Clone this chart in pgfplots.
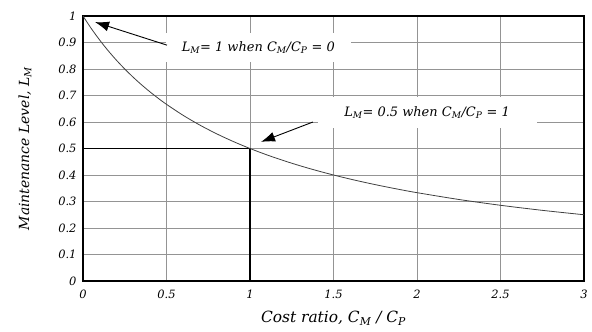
\documentclass[border=0pt]{standalone}
\usepackage{fontspec}
\setmainfont{DejaVu Serif}
\usepackage{pgfplots}
\pgfplotsset{compat=1.18}
\usetikzlibrary{arrows.meta}
\newcommand\sub[2]{\textit{#1}\textsubscript{\textit{#2}}}
\begin{document}
\begin{tikzpicture}
\path[use as bounding box] (-83bp,-51bp) rectangle (509bp,281bp);
\begin{axis}[
  scale only axis,
  width=501bp, height=265bp,
  xmin=0, xmax=3, ymin=0, ymax=1,
  xtick={0,0.5,...,3}, ytick={0,0.1,...,1},
  grid=major,
  major grid style={line width=0.9bp, color=black!42},
  axis line style={line width=1.4bp, black},
  tick style={draw=none},
  /pgf/number format/assume math mode=true,
  ticklabel style={font=\fontsize{11.5}{13}\selectfont\itshape},
  xticklabel style={yshift=-5bp},
  yticklabel style={xshift=-3bp},
  xlabel={\itshape Cost ratio, \sub{C}{M} / \sub{C}{P}},
  ylabel={\itshape Maintenance Level, \sub{L}{M}},
  xlabel style={font=\fontsize{15.5}{17}\selectfont, at={(axis description cs:0.5,0)}, anchor=center, yshift=-37bp},
  ylabel style={font=\fontsize{14}{16}\selectfont, at={(axis description cs:-0.116,0.5)}, anchor=center},
]
\addplot[black, line width=1.3bp] coordinates {(0,0.5) (1,0.5) (1,0)};
\addplot[black!75, line width=0.8bp, smooth] coordinates {
(0,1) (0.05,0.95238) (0.1,0.90909) (0.15,0.86957) (0.2,0.83333) (0.25,0.8)
(0.3,0.76923) (0.35,0.74074) (0.4,0.71429) (0.45,0.68966) (0.5,0.66667)
(0.6,0.625) (0.7,0.58824) (0.8,0.55556) (0.9,0.52632) (1.0,0.5)
(1.1,0.47619) (1.2,0.45455) (1.3,0.43478) (1.4,0.41667) (1.5,0.4)
(1.6,0.38462) (1.7,0.37037) (1.8,0.35714) (1.9,0.34483) (2.0,0.33333)
(2.25,0.30769) (2.5,0.28571) (2.75,0.26667) (3.0,0.25)};
\node[fill=white, minimum width=185bp, minimum height=29bp, inner sep=0pt,
  font=\fontsize{13}{15}\selectfont\itshape]
  at (axis cs:1.05,0.881) {\sub{L}{M}= 1 when \sub{C}{M}/\sub{C}{P} = 0};
\node[fill=white, minimum width=219bp, minimum height=31bp, inner sep=0pt,
  font=\fontsize{13}{15}\selectfont\itshape]
  at (axis cs:2.06,0.636) {\sub{L}{M}= 0.5 when \sub{C}{M}/\sub{C}{P} =\ 1};
\draw[black, line width=0.9bp, -{Latex[length=14bp,width=10bp]}]
  (axis cs:0.503,0.89) -- (axis cs:0.072,0.977);
\draw[black, line width=0.9bp, -{Latex[length=14bp,width=10bp]}]
  (axis cs:1.377,0.6) -- (axis cs:1.066,0.525);
\end{axis}
\end{tikzpicture}
\end{document}
